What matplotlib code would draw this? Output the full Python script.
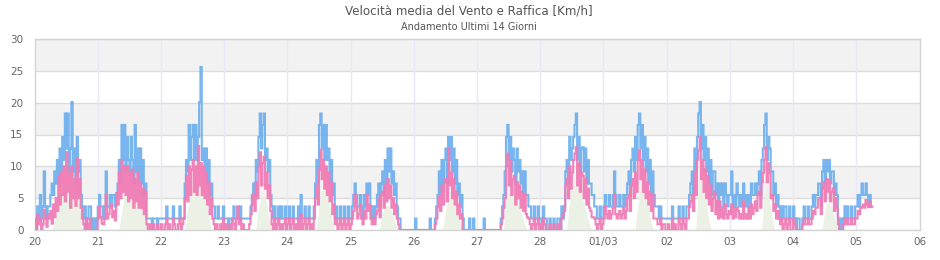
import numpy as np
import matplotlib
matplotlib.use("Agg")
import matplotlib.pyplot as plt

TITLE = "Velocità media del Vento e Raffica [Km/h]"
SUBTITLE = "Andamento Ultimi 14 Giorni"
DAY_LABELS = ["20", "21", "22", "23", "24", "25", "26", "27", "28", "01/03", "02", "03", "04", "05", "06"]
Y_TICKS = [0, 5, 10, 15, 20, 25, 30]

# Gusts (Raffica), km/h, one value every 30 minutes, per day
gust_20 = [3.7,0,3.7,1.8,5.5,1.8,3.7,9.2,3.7,1.8,3.7,3.7,5.5,7.3,5.5,9.2,
           7.3,11.0,7.3,12.8,9.2,14.6,11.0,18.3,12.8,18.3,9.2,12.8,20.1,9.2,12.8,7.3,14.6,9.2,11.0,5.5,
           3.7,1.8,3.7,0,1.8,3.7,3.7,1.8,0,1.8,0,1.8]
gust_21 = [3.7,5.5,3.7,3.7,1.8,3.7,9.2,3.7,3.7,5.5,3.7,5.5,5.5,3.7,5.5,7.3,
           11.0,7.3,16.5,11.0,16.5,9.2,14.6,11.0,9.2,14.6,11.0,7.3,16.5,9.2,12.8,7.3,12.8,7.3,11.0,5.5,7.3,1.8,
           1.8,1.8,1.8,0,1.8,1.8,1.8,0,1.8,1.8]
gust_22 = [1.8,1.8,1.8,1.8,3.7,1.8,1.8,1.8,1.8,3.7,1.8,1.8,1.8,1.8,3.7,1.8,1.8,1.8,
           7.3,11.0,9.2,16.5,11.0,14.6,16.5,11.0,16.5,11.0,14.6,20.1,25.6,11.0,12.8,9.2,12.8,7.3,11.0,5.5,7.3,3.7,
           3.7,1.8,1.8,3.7,1.8,1.8,1.8,3.7]
gust_23 = [1.8,1.8,1.8,0,1.8,1.8,1.8,3.7,1.8,1.8,3.7,1.8,3.7,1.8,1.8,1.8,1.8,1.8,1.8,1.8,
           3.7,5.5,7.3,5.5,11.0,9.2,14.6,18.3,12.8,16.5,18.3,11.0,12.8,9.2,11.0,5.5,3.7,1.8,
           3.7,1.8,1.8,3.7,1.8,3.7,1.8,1.8,3.7,1.8]
gust_24 = [1.8,3.7,1.8,1.8,3.7,1.8,1.8,1.8,3.7,1.8,5.5,1.8,1.8,3.7,1.8,1.8,3.7,1.8,1.8,1.8,
           3.7,7.3,11.0,7.3,16.5,18.3,12.8,16.5,11.0,16.5,11.0,12.8,7.3,11.0,5.5,7.3,
           1.8,3.7,1.8,1.8,3.7,1.8,1.8,3.7,1.8,1.8,3.7,1.8]
gust_25 = [1.8,3.7,5.5,7.3,5.5,3.7,3.7,5.5,3.7,1.8,5.5,3.7,7.3,5.5,7.3,3.7,1.8,3.7,1.8,3.7,
           5.5,7.3,3.7,7.3,9.2,5.5,11.0,7.3,12.8,9.2,12.8,7.3,9.2,5.5,7.3,3.7,
           1.8,1.8,0,0,0,0,0,0,0,0,0,0]
gust_26 = [0,1.8,0,0,0,0,0,0,0,0,0,0,1.8,0,0,0,
           1.8,3.7,5.5,9.2,5.5,11.0,7.3,11.0,12.8,7.3,14.6,11.0,14.6,9.2,12.8,7.3,11.0,5.5,7.3,3.7,5.5,1.8,
           0,0,0,0,1.8,0,0,1.8,0,0]
gust_27 = [0,0,0,0,0,1.8,0,0,0,0,0,0,0,0,0,0,0,0,
           1.8,3.7,5.5,9.2,14.6,16.5,11.0,14.6,9.2,12.8,11.0,7.3,12.8,9.2,11.0,7.3,9.2,5.5,9.2,5.5,5.5,3.7,3.7,1.8,
           1.8,3.7,1.8,1.8,3.7,1.8]
gust_28 = [1.8,0,3.7,1.8,1.8,0,0,1.8,0,0,1.8,0,0,1.8,1.8,0,
           3.7,1.8,3.7,9.2,11.0,7.3,14.6,11.0,12.8,14.6,16.5,18.3,11.0,14.6,9.2,12.8,13.0,9.2,12.8,7.3,11.0,7.3,
           7.3,5.5,5.5,3.7,3.7,1.8,
           1.8,3.7,1.8,1.8]
gust_01 = [3.7,5.5,3.7,3.7,5.5,3.7,3.7,5.5,9.2,5.5,3.7,3.7,5.5,3.7,3.7,5.5,3.7,5.5,
           7.3,9.2,5.5,11.0,12.8,9.2,14.6,11.0,16.5,18.3,12.8,16.5,11.0,14.6,9.2,12.8,7.3,11.0,5.5,9.2,5.5,3.7,
           3.7,3.7,1.8,3.7,1.8,1.8,1.8,1.8]
gust_02 = [1.8,1.8,1.8,1.8,3.7,1.8,1.8,1.8,1.8,3.7,1.8,1.8,3.7,1.8,1.8,3.7,
           3.7,5.5,7.3,9.2,5.5,12.8,9.2,14.6,18.3,20.1,12.8,16.5,11.0,14.6,9.2,12.8,7.3,11.0,5.5,9.2,
           9.2,5.5,7.3,3.7,7.3,5.5,7.3,3.7,7.3,5.5,3.7,5.5]
gust_03 = [5.5,9.2,3.7,5.5,3.7,7.3,5.5,3.7,5.5,3.7,7.3,3.7,5.5,3.7,5.5,3.7,7.3,5.5,5.5,7.3,
           5.5,7.3,9.2,5.5,11.0,12.8,16.5,18.3,11.0,14.6,12.8,9.2,9.2,5.5,7.3,3.7,5.5,3.7,
           1.8,3.7,1.8,3.7,3.7,1.8,1.8,3.7,1.8,1.8]
gust_04 = [3.7,1.8,0,1.8,1.8,0,0,1.8,3.7,1.8,1.8,3.7,1.8,1.8,3.7,5.5,3.7,5.5,
           5.5,7.3,7.3,3.7,9.2,11.0,7.3,11.0,9.2,11.0,7.3,9.2,9.2,5.5,7.3,5.5,
           1.8,0,1.8,0,1.8,3.7,1.8,3.7,1.8,1.8,3.7,1.8,1.8,3.7]
gust_05 = [3.7,5.5,3.7,5.5,7.3,5.5,5.5,7.3,5.5,3.7,5.5,3.7]

# Mean wind (Vento), km/h, one value every 30 minutes, per day
wind_20 = [1.8,0,2.5,0.9,1.8,0,0.9,3.2,1.8,0.5,2.5,1.8,3.0,1.0,4.0,2.0,
           5.0,3.0,8.5,4.0,9.0,5.5,10.0,4.5,12.2,6.0,9.0,3.5,10.0,5.0,8.0,3.8,11.2,5.0,8.0,3.5,
           1.8,0.9,0,1.8,0.9,0,1.8,0,0,0,0,0]
wind_21 = [1.8,3.6,2.0,1.0,0.9,1.8,5.5,1.8,2.5,3.5,4.0,2.0,3.0,1.5,5.8,4.0,
           9.0,5.0,11.0,6.0,10.0,5.5,10.0,4.5,9.0,5.0,9.5,3.5,8.0,4.5,9.0,3.5,7.5,3.5,6.5,2.5,6.0,0.9,
           0,0.9,0,0,0.9,0,0,0.9,0,0]
wind_22 = [0.9,0,0,0.9,1.8,0,0.9,0,0,1.8,0.9,0,0,0.9,1.8,0,0.9,1.8,
           5.0,8.5,4.5,10.0,5.5,9.5,11.0,6.0,10.0,5.5,13.2,7.0,10.5,5.5,10.0,5.0,9.0,4.0,7.5,2.5,5.0,1.8,
           0.9,0,0.9,0,0,0.9,0,1.8]
wind_23 = [0,0.9,0,0,0.9,0,1.8,0.9,0,1.8,3.6,0.9,1.8,0,0.9,0,0,0,0,0.9,
           2.5,4.0,5.5,3.0,7.5,5.0,10.0,12.2,7.0,10.5,11.5,6.5,9.0,5.0,7.0,3.0,0.9,0,
           1.8,0,0.9,1.8,0,0.9,0,0.9,1.8,0]
wind_24 = [0.9,1.8,0,0.9,1.8,0,0.9,0,1.8,0,2.5,0,0.9,1.8,0,0.9,1.8,0,0.9,0,
           1.8,5.0,7.0,4.0,9.5,12.6,8.0,11.0,6.5,10.0,5.5,9.0,4.5,7.5,2.5,4.0,
           0.9,1.8,0,0.9,1.8,0,0.9,1.8,0,0.9,1.8,0]
wind_25 = [0.9,1.8,3.0,5.5,3.5,1.8,2.5,4.0,1.8,0.9,3.0,1.8,5.5,3.0,4.0,1.8,0.9,1.8,0.9,2.5,
           3.0,5.0,2.0,5.5,6.0,3.5,7.0,4.5,8.0,5.0,7.0,3.5,5.0,2.5,4.0,1.8,
           0.9,0,0,0,0,0,0,0,0,0,0,0]
wind_26 = [0,0,0,0,0,0,0,0,0,0,0,0,0,0,0,0,
           0.9,1.8,3.6,5.2,3.0,7.0,4.0,7.5,8.0,4.5,12.8,7.0,9.0,5.0,8.0,4.0,6.0,2.5,4.0,1.8,2.5,0,
           0,0,0,0,0,0,0,0,0,0]
wind_27 = [0,0,0,0,0,0,0,0,0,0,0,0,0,0,0,0,0,0,
           0.9,1.8,3.5,5.0,10.0,12.0,7.0,11.0,5.5,8.0,8.5,4.0,7.5,5.0,7.0,3.5,6.0,3.0,5.5,2.5,2.0,1.8,0.9,0,
           0.9,1.8,0,0.9,1.8,0]
wind_28 = [0.9,0,1.8,0.9,0,0,0,0.9,0,0,0.9,0,0,0.9,0,0,
           1.8,2.5,3.0,7.0,8.0,5.0,10.0,6.5,9.0,11.0,12.0,13.0,7.0,10.5,6.0,9.0,8.5,5.0,8.0,4.0,6.5,3.5,
           3.0,2.0,2.0,1.8,0.9,0,
           0.9,1.8,0,0.9]
wind_01 = [1.8,3.6,2.5,1.8,3.0,1.8,2.5,3.5,5.5,2.5,1.8,2.5,3.0,1.8,2.5,3.5,1.8,3.0,
           5.0,5.5,3.0,7.0,8.0,5.0,9.0,6.0,11.0,12.5,8.0,11.0,6.0,9.5,5.0,7.5,4.0,6.0,3.0,5.5,1.8,1.8,
           1.8,0.9,0.9,1.8,0,0.9,0.9,0]
wind_02 = [0,0.9,0,0,1.8,0,0.9,0,0,1.8,0.9,0,1.8,0.9,0,1.8,
           1.8,3.6,4.5,5.5,3.0,9.0,5.5,11.0,12.5,14.6,8.0,11.0,6.0,9.5,5.0,8.5,4.0,7.0,3.0,5.0,
           6.0,2.5,4.5,1.8,4.5,2.0,3.5,1.8,4.0,2.5,1.8,3.0]
wind_03 = [2.5,4.0,1.8,3.5,2.0,3.5,3.0,1.8,2.5,1.8,4.5,1.8,2.5,1.8,3.5,1.8,4.0,2.5,3.5,4.5,
           3.0,5.5,6.0,3.5,7.5,9.0,11.0,13.0,7.5,10.5,9.0,5.0,5.5,3.0,4.0,1.8,3.0,1.8,
           0.9,1.8,0,0.9,1.8,0,0.9,1.8,0,0]
wind_04 = [1.8,0.9,0,0,0,0,0,0.9,1.8,0.9,0.9,1.8,0.9,0.9,1.8,3.0,2.5,3.5,
           3.5,5.0,5.0,2.5,6.5,7.5,4.5,8.0,6.0,7.8,4.5,6.0,6.5,3.0,5.0,3.5,
           0.9,0,0,0,0.9,1.8,0.9,1.8,0.9,0.9,1.8,0.9,0.9,1.8]
wind_05 = [1.8,3.0,2.5,3.5,3.6,4.0,3.5,4.7,4.0,3.6,4.5,3.6]

# Light green area (smoothed mean), km/h, one value per hour, per day
base_20 = [0,0,0,0,0,0,0,0.5,2,4,5,6,6.5,6.8,7,6.8,6,4,0.5,0,0,0,0,0]
base_21 = [0,0,0,0,0,0,0,0,0,2.5,5,6.5,7,7,6.8,6.5,6,4.5,2,0,0,0,0,0]
base_22 = [0,0,0,0,0,0,0,0,0,0,3,5.5,6.5,7.5,7.8,7.5,6.5,5,3,0,0,0,0,0]
base_23 = [0,0,0,0,0,0,0,0,0,0,0,0,0,3.5,5,5.2,4.5,2,0,0,0,0,0,0]
base_24 = [0,0,0,0,0,0,0,0,0,0,0,0,4,6,6.3,5.5,4,1.5,0,0,0,0,0,0]
base_25 = [0,0,0,0,0,0,0,0,0,0,0,0,2.5,3.8,3.9,3.5,2.5,1,0,0,0,0,0,0]
base_26 = [0,0,0,0,0,0,0,0,0,0,0,0,3,5,5.8,5.5,4.5,2.5,0.5,0,0,0,0,0]
base_27 = [0,0,0,0,0,0,0,0,0,0,0,4.5,5.8,5.8,5.2,4.5,3.5,2.5,1,0,0,0,0,0]
base_28 = [0,0,0,0,0,0,0,0,0,0,0,4,6.5,7.8,7.5,6.5,5,3.5,2,0.5,0,0,0,0]
base_01 = [0,0,0,0,0,0,0,0,0,0,0,0,0,3.5,6,6.3,5,3.5,1.5,0,0,0,0,0]
base_02 = [0,0,0,0,0,0,0,0,0,0,0,0,6,8.9,7,4.5,1.5,0,0,0,0,0,0,0]
base_03 = [0,0,0,0,0,0,0,0,0,0,0,0,0,5,6.8,5,2,0,0,0,0,0,0,0]
base_04 = [0,0,0,0,0,0,0,0,0,0,0,0,3,4.4,4.2,3,1.5,0,0,0,0,0,0,0]

GUST_DAYS = [gust_20, gust_21, gust_22, gust_23, gust_24, gust_25, gust_26, gust_27,
             gust_28, gust_01, gust_02, gust_03, gust_04, gust_05]
WIND_DAYS = [wind_20, wind_21, wind_22, wind_23, wind_24, wind_25, wind_26, wind_27,
             wind_28, wind_01, wind_02, wind_03, wind_04, wind_05]
BASE_DAYS = [base_20, base_21, base_22, base_23, base_24, base_25, base_26, base_27,
             base_28, base_01, base_02, base_03, base_04]


def build(days, per_day):
    t, v = [], []
    for d, vals in enumerate(days):
        for i, val in enumerate(vals):
            t.append(d + i / per_day)
            v.append(val)
    return np.array(t), np.array(v, dtype=float)


tg, vg = build(GUST_DAYS, 48)
tw, vw = build(WIND_DAYS, 48)
tb, vb = build(BASE_DAYS, 24)
tg = np.append(tg, tg[-1] + 1 / 48); vg = np.append(vg, vg[-1])
tw = np.append(tw, tw[-1] + 1 / 48); vw = np.append(vw, vw[-1])

fig = plt.figure(figsize=(9.4, 2.6), dpi=100)
ax = fig.add_axes([34.5 / 940, 30 / 260, 885 / 940, 191 / 260])

ax.set_xlim(0, 14)
ax.set_ylim(0, 30)

for lo in (5, 15, 25):
    ax.axhspan(lo, lo + 5, color="#f2f2f2", zorder=0, lw=0)
for y in Y_TICKS:
    ax.axhline(y, color="#dcdcdc", lw=1.0, zorder=0.5)
for d in range(1, 14):
    ax.axvline(d, color="#e9e7f8", lw=1.0, zorder=0.6)

ax.fill_between(tb, vb, 0, color="#ebf1e5", lw=0, zorder=1)

ax.plot(tg, vg, drawstyle="steps-post", color="#62a9ee", lw=1.5, alpha=0.85,
        solid_joinstyle="miter", zorder=2)
ax.plot(tw, vw, drawstyle="steps-post", color="#f07cb5", lw=1.5, alpha=0.95,
        solid_joinstyle="miter", zorder=3)

ax.set_xticks(range(15))
ax.set_xticklabels(DAY_LABELS)
ax.set_yticks(Y_TICKS)
ax.tick_params(axis="both", length=0, labelsize=7.5, labelcolor="#666666")
ax.tick_params(axis="x", pad=5)
ax.tick_params(axis="y", pad=8)
for s in ax.spines.values():
    s.set_color("#d4d4d4")
    s.set_linewidth(1.0)

fig.text(469 / 940, 1 - 11 / 260, TITLE, ha="center", va="center", fontsize=8.6, color="#555555")
fig.text(469 / 940, 1 - 27 / 260, SUBTITLE, ha="center", va="center", fontsize=7, color="#555555")

fig.savefig("out.png", dpi=100)
